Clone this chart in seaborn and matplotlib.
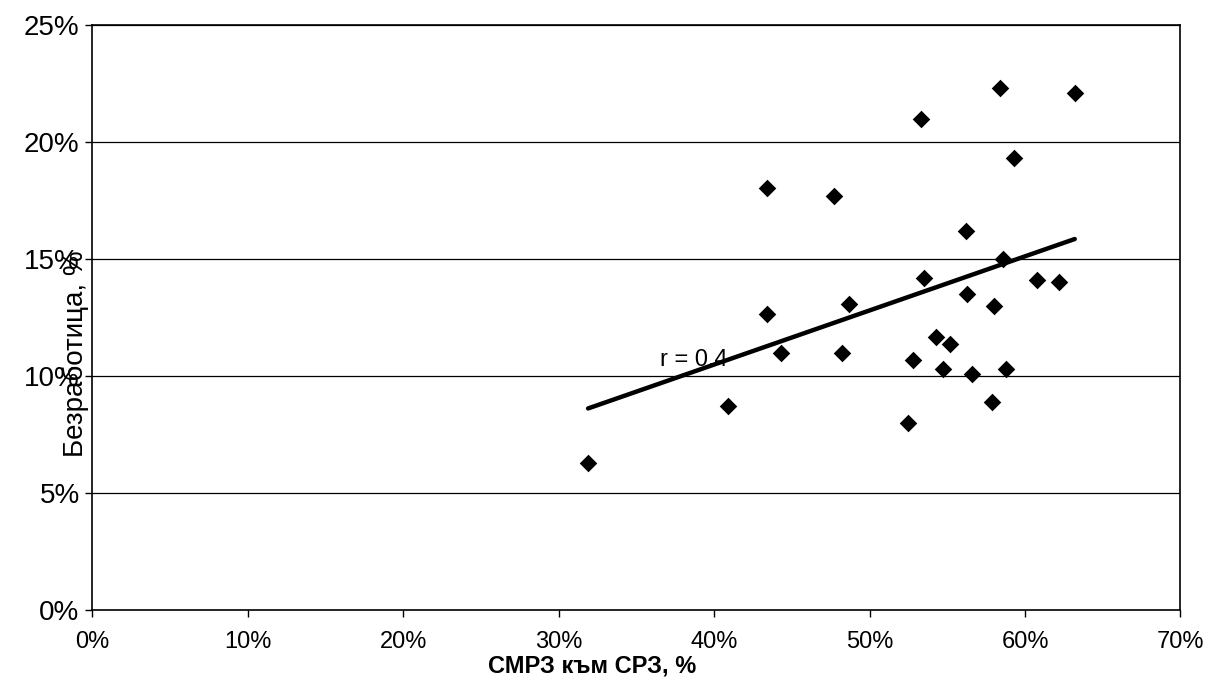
import matplotlib
matplotlib.use("Agg")
import matplotlib.pyplot as plt
import matplotlib.ticker as mticker
import seaborn as sns
import numpy as np
import pandas as pd

# values (fractions)
smrz_to_srz = [0.584, 0.632, 0.533, 0.593, 0.434, 0.477, 0.562, 0.586, 0.535, 0.608,
               0.622, 0.563, 0.580, 0.487, 0.434, 0.543, 0.552, 0.443, 0.482, 0.528,
               0.547, 0.566, 0.588, 0.409, 0.579, 0.525, 0.319]
unemployment = [0.223, 0.221, 0.210, 0.193, 0.1805, 0.177, 0.162, 0.150, 0.142, 0.141,
                0.140, 0.135, 0.130, 0.1306, 0.1265, 0.1165, 0.1135, 0.110, 0.110, 0.107,
                0.103, 0.101, 0.103, 0.087, 0.089, 0.080, 0.063]
corr_label = "r = 0.4"

x_ticks = [0, 0.1, 0.2, 0.3, 0.4, 0.5, 0.6, 0.7]
y_ticks = [0, 0.05, 0.10, 0.15, 0.20, 0.25]

df = pd.DataFrame({"x": smrz_to_srz, "y": unemployment})

sns.set_style("white")
plt.rcParams['font.family'] = ['Liberation Sans', 'DejaVu Sans']
plt.rcParams['text.color'] = 'black'
plt.rcParams['axes.labelcolor'] = 'black'
plt.rcParams['xtick.color'] = 'black'
plt.rcParams['ytick.color'] = 'black'

fig = plt.figure(figsize=(12.12, 6.8), dpi=100)
ax = fig.add_axes([0.076, 0.103, 0.898, 0.860])

# horizontal gridlines like the original
for yv in y_ticks[1:]:
    ax.axhline(yv, color="black", linewidth=0.9, zorder=1)

sns.regplot(data=df, x="x", y="y", ax=ax, ci=None, truncate=True,
            scatter=False, line_kws={"color": "black", "linewidth": 3.2})
sns.scatterplot(data=df, x="x", y="y", ax=ax, marker="D", s=80,
                color="black", edgecolor="black", linewidth=0, zorder=3)

ax.text(0.365, 0.107, corr_label, fontsize=17, va="center", ha="left")

ax.set_xlim(0, 0.7)
ax.set_ylim(0, 0.25)
ax.set_xticks(x_ticks)
ax.set_yticks(y_ticks)
ax.xaxis.set_major_formatter(mticker.PercentFormatter(1.0, decimals=0))
ax.yaxis.set_major_formatter(mticker.PercentFormatter(1.0, decimals=0))
ax.tick_params(axis="both", direction="out", length=5,
               width=1, color="black", bottom=True, left=True)
ax.tick_params(axis="x", labelsize=17, pad=10)
ax.tick_params(axis="y", labelsize=20, pad=4)

for sp in ax.spines.values():
    sp.set_color("black")
    sp.set_linewidth(1.2)

ax.set_xlabel("СМРЗ към СРЗ, %", fontsize=17, fontweight="bold", labelpad=0)
ax.xaxis.set_label_coords(0.459, -0.076)
ax.set_ylabel("Безработица, %", fontsize=20, labelpad=0)
ax.yaxis.set_label_coords(-0.003, 0.439)

fig.savefig("out.png", dpi=100)
